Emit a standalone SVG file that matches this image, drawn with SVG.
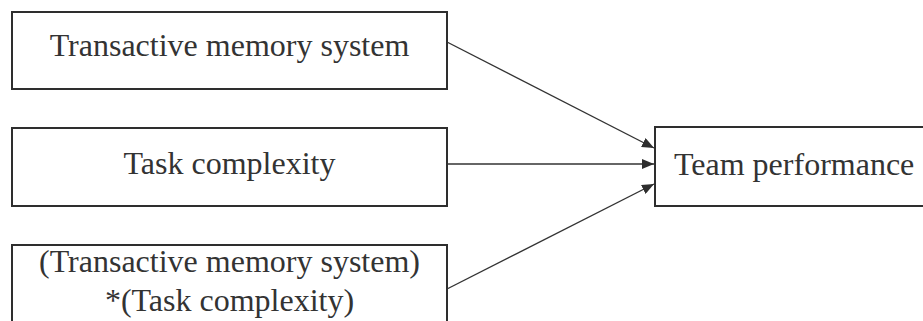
<svg xmlns="http://www.w3.org/2000/svg" width="923" height="321" viewBox="0 0 923 321">
  <style>
    .box { fill: #ffffff; stroke: #2e2e2e; stroke-width: 2; }
    .lbl { font-family: "Liberation Serif", "Times New Roman", serif; font-size: 32px; fill: #333333; }
    .mid { text-anchor: middle; }
    .edge { fill: none; stroke: #333333; stroke-width: 1.4; }
  </style>
  <defs>
    <marker id="arrow" viewBox="0 0 12 10" refX="12" refY="5" markerWidth="12" markerHeight="10" markerUnits="userSpaceOnUse" orient="auto">
      <path d="M0,0 L12,5 L0,10 Z" fill="#2e2e2e"/>
    </marker>
  </defs>
  <rect width="923" height="321" fill="#ffffff"/>

  <g id="tms">
    <rect class="box" x="12" y="12" width="435" height="77"/>
    <text class="lbl mid" x="229.5" y="56">Transactive memory system</text>
  </g>

  <g id="task-complexity">
    <rect class="box" x="12" y="128" width="435" height="78"/>
    <text class="lbl mid" x="229.5" y="174">Task complexity</text>
  </g>

  <g id="interaction">
    <rect class="box" x="12" y="245" width="435" height="100"/>
    <text class="lbl mid" x="229.5" y="272">(Transactive memory system)</text>
    <text class="lbl mid" x="229.5" y="311">*(Task complexity)</text>
  </g>

  <g id="team-performance">
    <rect class="box" x="655" y="127" width="300" height="79"/>
    <text class="lbl" x="674" y="175">Team performance</text>
  </g>

  <g id="connectors">
    <line class="edge" x1="447" y1="42" x2="654" y2="148" marker-end="url(#arrow)"/>
    <line class="edge" x1="447" y1="164" x2="654" y2="164" marker-end="url(#arrow)"/>
    <line class="edge" x1="447" y1="289" x2="654" y2="184" marker-end="url(#arrow)"/>
  </g>
</svg>
